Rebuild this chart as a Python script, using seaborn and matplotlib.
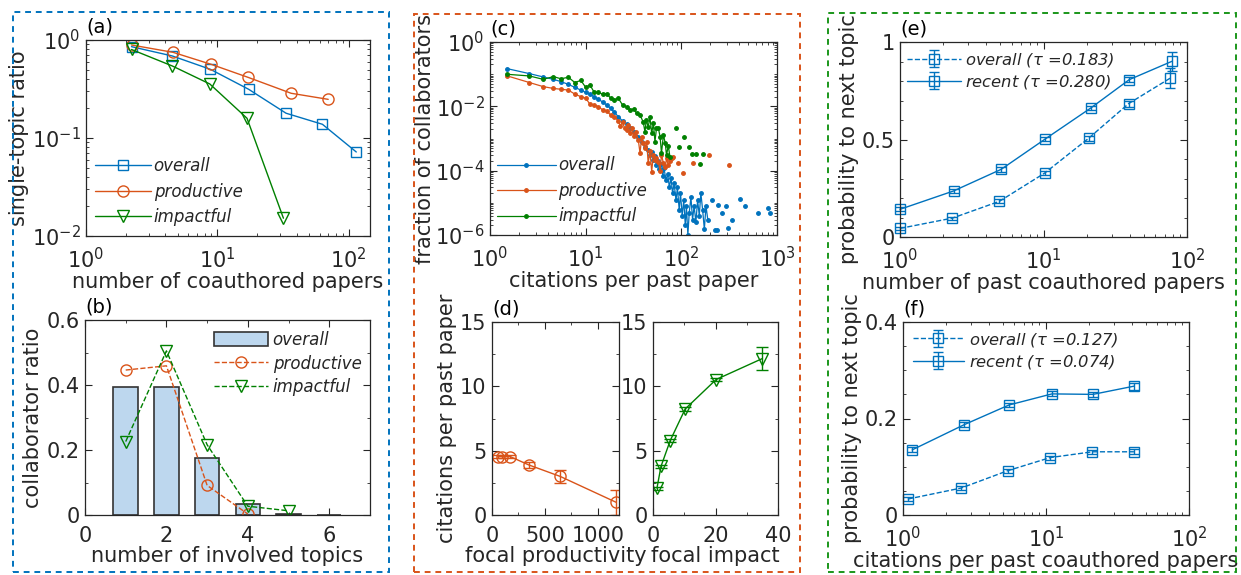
import matplotlib
matplotlib.use('Agg')
import matplotlib.pyplot as plt
import seaborn as sns
import numpy as np
from matplotlib.patches import Rectangle
from matplotlib.ticker import (LogLocator, FixedLocator, NullFormatter,
                               MultipleLocator)

BLUE = '#0072BD'
ORANGE = '#D95319'
GREEN = '#008000'
BARFILL = '#BDD7EE'
INK = '#262626'

# ---------- (a) single-topic ratio ----------
a_overall_x = [2.22, 4.54, 8.85, 17.3, 33.3, 63, 114]
a_overall_y = [0.855, 0.687, 0.502, 0.314, 0.179, 0.138, 0.072]
a_prod_x = [2.22, 4.59, 8.95, 17.1, 36.4, 69.7]
a_prod_y = [0.889, 0.749, 0.565, 0.416, 0.286, 0.248]
a_imp_x = [2.22, 4.54, 8.75, 16.8, 31.8]
a_imp_y = [0.80, 0.543, 0.356, 0.159, 0.0152]

# ---------- (b) number of involved topics ----------
b_topics = [1, 2, 3, 4, 5, 6]
b_overall = [0.395, 0.393, 0.174, 0.033, 0.003, 0.001]
b_prod_x = [1, 2, 3, 4]
b_prod = [0.446, 0.459, 0.091, 0.003]
b_imp_x = [1, 2, 3, 4, 5]
b_imp = [0.226, 0.505, 0.216, 0.027, 0.013]

# ---------- (c) fraction of collaborators ----------
c_overall_x = [1.52, 2.58, 3.6, 4.6, 5.5, 6.6, 7.7, 8.9, 10, 11.1, 12.3, 13.6, 15,
               16.6, 18.2, 19.9, 21.9, 24.3, 26.8, 29, 32, 35.5, 38.5, 41.7, 45, 47,
               49, 51, 53, 55, 57, 59, 62, 64, 66, 69, 72, 75, 78, 81, 84, 88, 91,
               95, 98, 102, 106, 110, 113, 117, 121, 126, 131, 136, 142, 148, 154,
               160, 167, 174, 181, 189]
c_overall_y = [0.148, 0.104, 0.082, 0.069, 0.059, 0.048, 0.039, 0.032, 0.027, 0.024,
               0.0196, 0.0166, 0.0137, 0.011, 0.0087, 0.0066, 0.0048, 0.0035, 0.0028,
               0.0021, 0.0016, 0.00114, 0.0008, 0.00056, 4.5e-4, 3.0e-4, 3.8e-4,
               2.2e-4, 2.8e-4, 1.5e-4, 2.0e-4, 1.1e-4, 1.6e-4, 7e-5, 1.2e-4, 5e-5,
               8e-5, 3e-5, 6e-5, 2e-5, 4e-5, 1.2e-5, 3e-5, 6e-6, 2e-5, 4e-6, 1.2e-5,
               2e-6, 8e-6, 1e-6, 5e-6, 1.5e-5, 3e-6, 8e-6, 2.5e-6, 1.2e-5, 4e-6,
               2e-5, 6e-6, 1.5e-6, 8e-6, 3e-6]
c_overall_tail_x = [207, 225, 234, 243, 264, 296, 310, 336, 409, 462, 635, 810, 845]
c_overall_tail_y = [1.2e-5, 1.4e-6, 1.45e-6, 8.7e-6, 4.8e-6, 7.7e-6, 1.6e-6, 3e-6,
                    1.3e-5, 7.7e-6, 4.8e-6, 6.8e-6, 4.8e-6]

c_prod_x = [1.52, 2.58, 3.6, 4.6, 5.5, 6.6, 7.7, 8.9, 10, 11.1, 12.3, 13.6, 15, 16.6,
            18.2, 19.9, 21.9, 23, 24.3, 25.5, 26.8, 28, 29, 30.5, 32, 33.5, 35.5, 37,
            38.5, 40, 41.7, 43.5, 45, 47, 49, 51, 53, 55, 57.5, 60, 62, 65, 68, 70,
            73, 76, 79]
c_prod_y = [0.088, 0.055, 0.041, 0.036, 0.034, 0.032, 0.024, 0.020, 0.018, 0.0116,
            0.011, 0.0098, 0.0078, 0.0072, 0.0054, 0.0048, 0.0035, 0.0025, 0.0032,
            0.0021, 0.0019, 0.0026, 0.00145, 0.0021, 0.0012, 0.0016, 0.0009, 0.00035,
            0.0011, 0.0007, 0.0005, 0.0008, 0.00017, 0.0004, 9.4e-5, 0.00031,
            0.00022, 0.00025, 0.00019, 0.0001, 0.00031, 0.00017, 0.00013, 0.00024,
            0.00015, 0.0002, 0.00024]
c_prod_tail_x = [82, 93, 105, 133, 195, 316]
c_prod_tail_y = [2.7e-4, 1.7e-4, 8.5e-5, 1.7e-4, 3.1e-4, 1.5e-4]

c_imp_x = [1.52, 2.58, 3.6, 4.6, 5.5, 6.6, 7.7, 8.9, 10, 11.1, 12.3, 13.6, 15, 16.6,
           18.2, 19.9, 21.9, 24.3, 26.8, 29, 32, 34, 37, 40, 41.7, 43, 45, 47, 49, 51,
           53, 55, 57.5, 60, 62, 65, 68, 70, 73, 76]
c_imp_y = [0.099, 0.088, 0.069, 0.084, 0.072, 0.080, 0.055, 0.064, 0.039, 0.046,
           0.027, 0.027, 0.024, 0.025, 0.018, 0.0158, 0.018, 0.011, 0.0098, 0.0078,
           0.0083, 0.0061, 0.0054, 0.0032, 0.0016, 0.0038, 0.0023, 0.0045, 0.00145,
           0.0030, 0.0008, 0.0021, 0.0021, 0.00114, 0.00035, 0.0013, 0.0007, 0.0003,
           0.0006, 0.00027]
c_imp_tail_x = [89, 95, 107, 121, 128, 144, 156, 167]
c_imp_tail_y = [0.0021, 5.6e-4, 0.00115, 5.6e-4, 3.3e-4, 3.3e-4, 1.6e-4, 3.3e-4]

# ---------- (d) citations per past paper ----------
d_prod_x = [56, 94, 172, 345, 644, 1175]
d_prod_y = [4.54, 4.54, 4.54, 3.9, 3.0, 0.98]
d_prod_err = [0.12, 0.1, 0.1, 0.25, 0.5, 0.98]
d_imp_x = [1.27, 2.55, 5.5, 10.3, 20.2, 35]
d_imp_y = [2.09, 3.77, 5.78, 8.24, 10.53, 12.16]
d_imp_err = [0.12, 0.12, 0.12, 0.12, 0.15, 0.9]

# ---------- (e) probability vs past coauthored papers ----------
e_overall_x = [1.0, 2.32, 4.93, 10.2, 20.6, 39.2, 76.5]
e_overall_y = [0.044, 0.097, 0.183, 0.328, 0.506, 0.684, 0.815]
e_overall_err = [0.008, 0.008, 0.01, 0.01, 0.012, 0.015, 0.05]
e_recent_x = [1.0, 2.36, 5.07, 10.3, 21.4, 39.6, 78.6]
e_recent_y = [0.142, 0.236, 0.347, 0.503, 0.662, 0.807, 0.901]
e_recent_err = [0.01, 0.01, 0.012, 0.01, 0.012, 0.012, 0.05]

# ---------- (f) probability vs citations ----------
f_overall_x = [1.08, 2.56, 5.42, 10.7, 21.1, 41.2]
f_overall_y = [0.033, 0.056, 0.092, 0.119, 0.131, 0.131]
f_overall_err = [0.004, 0.004, 0.004, 0.004, 0.004, 0.005]
f_recent_x = [1.16, 2.67, 5.51, 11.0, 21.3, 41.2]
f_recent_y = [0.135, 0.187, 0.228, 0.251, 0.250, 0.267]
f_recent_err = [0.005, 0.005, 0.005, 0.005, 0.005, 0.007]


sns.set_style('ticks')
plt.rcParams['font.family'] = ['DejaVu Sans']
plt.rcParams['mathtext.default'] = 'regular'
plt.rcParams['axes.edgecolor'] = INK
plt.rcParams['axes.linewidth'] = 0.9

FS = 15
LEG = 12
LEG_EF = 11.8

fig = plt.figure(figsize=(12.41, 5.75), dpi=100)
W, H = 1241, 575


def add_ax(l, r, t, b):
    return fig.add_axes([l / W, 1 - b / H, (r - l) / W, (b - t) / H])


def style(ax, xpad=8, ypad=4):
    ax.tick_params(which='both', direction='in', top=True, right=True,
                   colors=INK, labelcolor=INK)
    ax.tick_params(which='major', length=5, width=0.8, labelsize=FS)
    ax.tick_params(which='minor', length=2.5, width=0.6)
    ax.tick_params(axis='x', pad=xpad)
    ax.tick_params(axis='y', pad=ypad)
    for s in ax.spines.values():
        s.set_visible(True)
        s.set_color(INK)


def log_minor(axis):
    axis.set_minor_locator(LogLocator(base=10, subs=np.arange(1, 10), numticks=50))
    axis.set_minor_formatter(NullFormatter())


def panel_label(ax, s):
    ax.text(0.0, 1.02, s, transform=ax.transAxes, ha='left', va='bottom',
            fontsize=14, color='black')


def leg_kw(size):
    return dict(frameon=False, prop={'style': 'italic', 'size': size},
                borderaxespad=0, borderpad=0)


# (a)
ax = add_ax(86, 370, 40, 236)
sns.lineplot(x=a_overall_x, y=a_overall_y, ax=ax, color=BLUE, lw=1, marker='s',
             markersize=7, markerfacecolor='none', markeredgecolor=BLUE,
             markeredgewidth=1, label='overall', sort=False)
sns.lineplot(x=a_prod_x, y=a_prod_y, ax=ax, color=ORANGE, lw=1, marker='o',
             markersize=8, markerfacecolor='none', markeredgecolor=ORANGE,
             markeredgewidth=1, label='productive', sort=False)
sns.lineplot(x=a_imp_x, y=a_imp_y, ax=ax, color=GREEN, lw=1, marker='v',
             markersize=8, markerfacecolor='none', markeredgecolor=GREEN,
             markeredgewidth=1, label='impactful', sort=False)
ax.set_xscale('log')
ax.set_yscale('log')
ax.set_xlim(1, 145)
ax.set_ylim(0.01, 1)
ax.xaxis.set_major_locator(FixedLocator([1, 10, 100]))
ax.yaxis.set_major_locator(FixedLocator([0.01, 0.1, 1]))
log_minor(ax.xaxis)
log_minor(ax.yaxis)
style(ax)
ax.set_xlabel('number of coauthored papers', fontsize=FS, labelpad=0)
ax.set_ylabel('single-topic ratio', fontsize=FS, labelpad=2)
ax.legend(loc='lower left', bbox_to_anchor=(0.03, 0.05), handlelength=3.4,
          handletextpad=0.15, labelspacing=0.45, **leg_kw(LEG))
panel_label(ax, '(a)')

# (b)
ax = add_ax(85, 370, 320, 515)
sns.barplot(x=b_topics, y=b_overall, ax=ax, native_scale=True, width=0.6,
            color=BARFILL, saturation=1, edgecolor='#333333', linewidth=1.2,
            label='overall')
sns.lineplot(x=b_prod_x, y=b_prod, ax=ax, color=ORANGE, lw=1, ls='--', marker='o',
             markersize=8, markerfacecolor='none', markeredgecolor=ORANGE,
             markeredgewidth=1, label='productive', sort=False)
sns.lineplot(x=b_imp_x, y=b_imp, ax=ax, color=GREEN, lw=1, ls='--', marker='v',
             markersize=8, markerfacecolor='none', markeredgecolor=GREEN,
             markeredgewidth=1, label='impactful', sort=False)
ax.set_xlim(0, 7)
ax.set_ylim(0, 0.6)
ax.xaxis.set_major_locator(FixedLocator([0, 2, 4, 6]))
ax.xaxis.set_minor_locator(MultipleLocator(1))
ax.yaxis.set_major_locator(FixedLocator([0, 0.2, 0.4, 0.6]))
ax.yaxis.set_minor_locator(MultipleLocator(0.1))
ax.set_xticklabels(['0', '2', '4', '6'])
ax.set_yticklabels(['0', '0.2', '0.4', '0.6'])
style(ax)
ax.set_xlabel('number of involved topics', fontsize=FS, labelpad=0)
ax.set_ylabel('collaborator ratio', fontsize=FS, labelpad=2)
h, l = ax.get_legend_handles_labels()
order = [l.index('overall'), l.index('productive'), l.index('impactful')]
ax.legend([h[i] for i in order], [l[i] for i in order], loc='upper right',
          bbox_to_anchor=(0.97, 0.945), handlelength=3.2, handleheight=0.95,
          handletextpad=0.3, labelspacing=0.35, **leg_kw(LEG))
panel_label(ax, '(b)')

# (c)
ax = add_ax(490, 777, 42, 235)
ax.plot(c_overall_x, c_overall_y, '.-', color=BLUE, ms=5, lw=0.9, label='overall')
ax.plot(c_overall_tail_x, c_overall_tail_y, '.', color=BLUE, ms=5)
ax.plot(c_prod_x, c_prod_y, '.-', color=ORANGE, ms=5, lw=0.9, label='productive')
ax.plot(c_prod_tail_x, c_prod_tail_y, '.', color=ORANGE, ms=5)
ax.plot(c_imp_x, c_imp_y, '.-', color=GREEN, ms=5, lw=0.9, label='impactful')
ax.plot(c_imp_tail_x, c_imp_tail_y, '.', color=GREEN, ms=5)
ax.set_xscale('log')
ax.set_yscale('log')
ax.set_xlim(1, 1000)
ax.set_ylim(1e-6, 1)
ax.xaxis.set_major_locator(FixedLocator([1, 10, 100, 1000]))
ax.yaxis.set_major_locator(FixedLocator([1e-6, 1e-4, 1e-2, 1]))
log_minor(ax.xaxis)
log_minor(ax.yaxis)
style(ax)
ax.set_xlabel('citations per past paper', fontsize=FS, labelpad=0)
ax.set_ylabel('fraction of collaborators', fontsize=FS, labelpad=0)
ax.legend(loc='lower left', bbox_to_anchor=(0.025, 0.05), handlelength=3.5,
          handletextpad=0.15, labelspacing=0.45, **leg_kw(LEG))
panel_label(ax, '(c)')

# (d) left
ax = add_ax(492, 619, 322, 515)
ax.errorbar(d_prod_x, d_prod_y, yerr=d_prod_err, color=ORANGE, lw=1, marker='o',
            ms=8, mfc='none', mec=ORANGE, mew=1, capsize=4, elinewidth=1)
ax.set_xlim(0, 1200)
ax.set_ylim(0, 15)
ax.xaxis.set_major_locator(FixedLocator([0, 500, 1000]))
ax.xaxis.set_minor_locator(MultipleLocator(250))
ax.yaxis.set_major_locator(FixedLocator([0, 5, 10, 15]))
ax.yaxis.set_minor_locator(MultipleLocator(2.5))
style(ax)
ax.set_xlabel('focal productivity', fontsize=FS, labelpad=0)
ax.set_ylabel('citations per past paper', fontsize=FS, labelpad=2)
panel_label(ax, '(d)')

# (d) right
ax = add_ax(653, 778, 322, 515)
ax.errorbar(d_imp_x, d_imp_y, yerr=d_imp_err, color=GREEN, lw=1, marker='v',
            ms=9, mfc='none', mec=GREEN, mew=1, capsize=4, elinewidth=1)
ax.set_xlim(0, 40)
ax.set_ylim(0, 15)
ax.xaxis.set_major_locator(FixedLocator([0, 20, 40]))
ax.xaxis.set_minor_locator(MultipleLocator(10))
ax.yaxis.set_major_locator(FixedLocator([0, 5, 10, 15]))
ax.yaxis.set_minor_locator(MultipleLocator(2.5))
style(ax)
ax.set_xlabel('focal impact', fontsize=FS, labelpad=0)

# (e)
ax = add_ax(900, 1187, 42, 237)
ax.errorbar(e_overall_x, e_overall_y, yerr=e_overall_err, color=BLUE, lw=1, ls='--',
            marker='s', ms=7, mfc='none', mec=BLUE, mew=1, capsize=3.5,
            elinewidth=1, label='overall ($\\tau$ =0.183)', clip_on=False)
ax.errorbar(e_recent_x, e_recent_y, yerr=e_recent_err, color=BLUE, lw=1, ls='-',
            marker='s', ms=7, mfc='none', mec=BLUE, mew=1, capsize=3.5,
            elinewidth=1, label='recent ($\\tau$ =0.280)', clip_on=False)
ax.set_xscale('log')
ax.set_xlim(1, 100)
ax.set_ylim(0, 1)
ax.xaxis.set_major_locator(FixedLocator([1, 10, 100]))
log_minor(ax.xaxis)
ax.yaxis.set_major_locator(FixedLocator([0, 0.5, 1]))
ax.yaxis.set_minor_locator(MultipleLocator(0.1))
ax.set_yticklabels(['0', '0.5', '1'])
style(ax)
ax.set_xlabel('number of past coauthored papers', fontsize=FS, labelpad=0)
ax.set_ylabel('probability to next topic', fontsize=FS, labelpad=2)
ax.legend(loc='upper left', bbox_to_anchor=(0.025, 0.955), handlelength=3.3,
          handletextpad=0.2, labelspacing=0.25, **leg_kw(LEG_EF))
panel_label(ax, '(e)')

# (f)
ax = add_ax(903, 1189, 322, 515)
ax.errorbar(f_overall_x, f_overall_y, yerr=f_overall_err, color=BLUE, lw=1, ls='--',
            marker='s', ms=7, mfc='none', mec=BLUE, mew=1, capsize=3.5,
            elinewidth=1, label='overall ($\\tau$ =0.127)', clip_on=False)
ax.errorbar(f_recent_x, f_recent_y, yerr=f_recent_err, color=BLUE, lw=1, ls='-',
            marker='s', ms=7, mfc='none', mec=BLUE, mew=1, capsize=3.5,
            elinewidth=1, label='recent ($\\tau$ =0.074)', clip_on=False)
ax.set_xscale('log')
ax.set_xlim(1, 100)
ax.set_ylim(0, 0.4)
ax.xaxis.set_major_locator(FixedLocator([1, 10, 100]))
log_minor(ax.xaxis)
ax.yaxis.set_major_locator(FixedLocator([0, 0.2, 0.4]))
ax.yaxis.set_minor_locator(MultipleLocator(0.05))
ax.set_yticklabels(['0', '0.2', '0.4'])
style(ax)
ax.set_xlabel('citations per past coauthored papers', fontsize=FS, labelpad=0)
ax.set_ylabel('probability to next topic', fontsize=FS, labelpad=2)
ax.legend(loc='upper left', bbox_to_anchor=(0.035, 0.955), handlelength=3.1,
          handletextpad=0.3, labelspacing=0.25, **leg_kw(LEG_EF))
panel_label(ax, '(f)')

# dashed frames around the three columns
for (x0, x1, y0, y1, c) in [(13, 389, 12, 572, BLUE), (414, 800, 14, 572, ORANGE),
                            (828, 1236, 13, 572, '#1A961A')]:
    fig.add_artist(Rectangle((x0 / W, 1 - y1 / H), (x1 - x0) / W, (y1 - y0) / H,
                             transform=fig.transFigure, fill=False, ec=c, lw=1.4,
                             ls=(0, (3, 2.5))))

fig.savefig('out.png', dpi=100)
